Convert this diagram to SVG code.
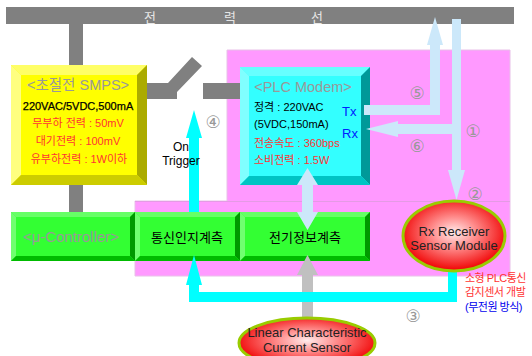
<svg xmlns="http://www.w3.org/2000/svg" width="532" height="356" viewBox="0 0 532 356">
<defs>
<radialGradient id="redg" cx="50%" cy="45%" r="55%">
<stop offset="0" stop-color="#FFECEC"/>
<stop offset="0.4" stop-color="#FF8C8C"/>
<stop offset="1" stop-color="#F00000"/>
</radialGradient>
</defs>
<style>
text{font-family:'Liberation Sans','Noto Sans CJK KR',sans-serif}
.title{font-size:14.5px;fill:#999999;text-anchor:middle}
.sm{font-size:11px;fill:#000}
.red{fill:#FF3333}
.mid{text-anchor:middle}
.num{font-family:'DejaVu Sans','Noto Sans CJK KR',sans-serif;font-size:17px;fill:#999999;text-anchor:middle;dominant-baseline:central}
.gray{fill:#808080}
.lb{fill:#CCE8FA}
.cy{fill:#00FFFF}
.ell{fill:url(#redg);stroke:#99CC00;stroke-width:3}
.etx{font-size:13px;fill:#222;text-anchor:middle}
.gtx{font-size:13px;fill:#000;text-anchor:middle}
</style>
<rect width="532" height="356" fill="#FFFFFF"/>
<!-- pink zone -->
<path d="M227,50 H510 V276 H135 V201 H227 Z" fill="#FF99FF" stroke="#E8C0E8" stroke-width="1"/>
<line x1="135" y1="201.5" x2="510" y2="201.5" stroke="#E49AE4" stroke-width="1"/>
<!-- power line -->
<g id="powerline">
<rect x="6" y="7" width="508" height="17" fill="#808080"/>
<text y="22" font-size="13" fill="#E6E6E6" text-anchor="middle"><tspan x="150">전</tspan><tspan x="230">력</tspan><tspan x="317">선</tspan></text>
</g>
<g id="wires">
<rect class="gray" x="69" y="24" width="14" height="42"/>
<rect class="gray" x="69" y="184" width="14" height="29"/>
<polygon class="gray" points="147,83 168,83 192,57 202,66 177,92 177,99 147,99"/>
<rect class="gray" x="203" y="83" width="38" height="16"/>
</g>
<!-- SMPS -->
<g id="smps">
<rect x="11" y="65" width="136" height="120" fill="#FFFF00"/>
<polygon points="11,65 147,65 137,75 21,75" fill="#FFFF66"/>
<polygon points="11,65 21,75 21,175 11,185" fill="#FFFF80"/>
<polygon points="147,65 147,185 137,175 137,75" fill="#ABAB00"/>
<polygon points="11,185 147,185 137,175 21,175" fill="#CCCC00"/>
<text class="title" x="78" y="90">&lt;초절전 SMPS&gt;</text>
<text class="sm mid" x="78" y="110" stroke="#000" stroke-width="0.25">220VAC/5VDC,500mA</text>
<text class="sm mid red" x="78" y="127">무부하 전력 : 50mV</text>
<text class="sm mid red" x="78" y="145">대기전력 : 100mV</text>
<text class="sm mid red" x="79" y="163">유부하전력 : 1W이하</text>
</g>
<!-- PLC modem -->
<g id="plc">
<rect x="240" y="67" width="130" height="118" fill="#33FFFF"/>
<polygon points="240,67 370,67 361,76 249,76" fill="#66FFFF"/>
<polygon points="240,67 249,76 249,176 240,185" fill="#80FFFF"/>
<polygon points="370,67 370,185 361,176 361,76" fill="#009999"/>
<polygon points="240,185 370,185 361,176 249,176" fill="#00C4C4"/>
<text class="title" x="303" y="92" font-size="14">&lt;PLC Modem&gt;</text>
<text class="sm" x="254" y="111">정격 : 220VAC</text>
<text class="sm" x="254" y="128">(5VDC,150mA)</text>
<text class="sm red" x="254" y="147">전송속도 : 360bps</text>
<text class="sm red" x="254" y="164">소비전력 : 1.5W</text>
<text x="342" y="115.5" font-size="13" fill="#0022FF">Tx</text>
<text x="342" y="137.5" font-size="13" fill="#0022FF">Rx</text>
</g>
<!-- green row -->
<g id="mcu">
<rect x="11" y="212" width="124" height="49" fill="#33FF33"/>
<polygon points="11,212 135,212 130,217 16,217" fill="#66FF66"/>
<polygon points="11,212 16,217 16,256 11,261" fill="#70FF70"/>
<polygon points="135,212 135,261 130,256 130,217" fill="#009900"/>
<polygon points="11,261 135,261 130,256 16,256" fill="#00BB00"/>
<text x="71" y="242" font-size="15" fill="#999999" text-anchor="middle">&lt;μ-Controller&gt;</text>
</g>
<g id="comm">
<rect x="135" y="212" width="105" height="49" fill="#33FF33"/>
<polygon points="135,212 240,212 235,217 140,217" fill="#66FF66"/>
<polygon points="135,212 140,217 140,256 135,261" fill="#70FF70"/>
<polygon points="240,212 240,261 235,256 235,217" fill="#009900"/>
<polygon points="135,261 240,261 235,256 140,256" fill="#00BB00"/>
<text class="gtx" x="187" y="242">통신인지계측</text>
</g>
<g id="elec">
<rect x="240" y="212" width="130" height="49" fill="#33FF33"/>
<polygon points="240,212 370,212 365,217 245,217" fill="#66FF66"/>
<polygon points="240,212 245,217 245,256 240,261" fill="#70FF70"/>
<polygon points="370,212 370,261 365,256 365,217" fill="#009900"/>
<polygon points="240,261 370,261 365,256 245,256" fill="#00BB00"/>
<text class="gtx" x="305" y="242">전기정보계측</text>
</g>
<!-- connectors -->
<g id="connectors">
<path class="lb" d="M364,105 H430 V45 H427 L435,17 L443,45 H440 V115 H364 Z"/>
<path class="lb" d="M452,19 H461 V170 H465 L456.5,200 L448,170 H452 Z"/>
<path class="lb" d="M452,124 V134 H398 V137 L366,129 L398,121 V124 Z"/>
<path class="lb" d="M297,185 L307.5,168 L318,185 H313 V212 H318 L307.5,230 L297,212 H302 V185 Z"/>
<path fill="#C0C0C0" d="M302,320 V275 H297 L307.5,255 L318,275 H313 V320 Z"/>
<path class="cy" d="M189,212 V138 H186 L194,110 L202,138 H199 V212 Z"/>
<path class="cy" d="M448,268 H457 V302 H189 V285 H186 L194,255 L202,285 H199 V292 H448 Z"/>
</g>
<!-- ellipses -->
<g id="rx">
<ellipse class="ell" cx="454" cy="236" rx="51" ry="35"/>
<text class="etx" x="454" y="236">Rx Receiver</text>
<text class="etx" x="454" y="249.5">Sensor Module</text>
</g>
<g id="linear">
<ellipse class="ell" cx="307" cy="343" rx="68" ry="25"/>
<text class="etx" x="307" y="337">Linear Characteristic</text>
<text class="etx" x="307" y="352">Current Sensor</text>
</g>
<!-- labels -->
<g id="labels">
<text class="num" x="213" y="122">④</text>
<text class="num" x="417" y="93">⑤</text>
<text class="num" x="473" y="131">①</text>
<text class="num" x="417" y="146">⑥</text>
<text class="num" x="475" y="194">②</text>
<text class="num" x="413" y="316">③</text>
<text x="181" y="151" font-size="12" fill="#000" text-anchor="middle">On</text>
<text x="181" y="164.5" font-size="12" fill="#000" text-anchor="middle">Trigger</text>
<text x="465" y="282" font-size="11" letter-spacing="-0.5" fill="#FF3333">소형 PLC통신</text>
<text x="465" y="296" font-size="11" letter-spacing="-0.5" fill="#FF3333">감지센서 개발</text>
<text x="465" y="311" font-size="11" letter-spacing="-0.5" fill="#0000EE">(무전원 방식)</text>
</g>
</svg>
